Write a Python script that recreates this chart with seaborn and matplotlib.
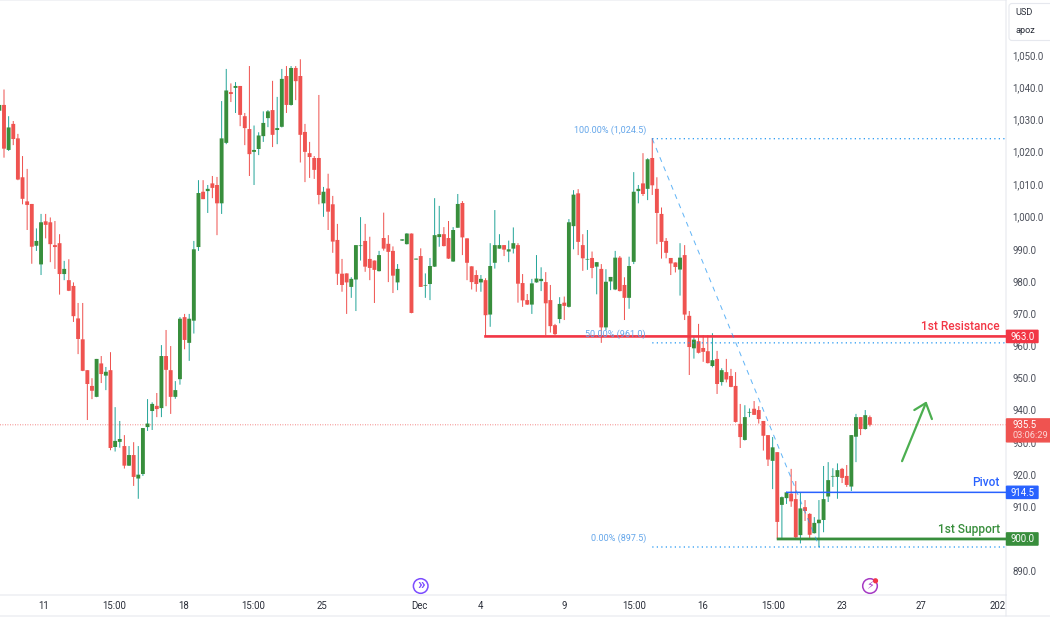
import matplotlib
matplotlib.use("Agg")
import matplotlib.pyplot as plt
from matplotlib.patches import Circle, FancyBboxPatch, Rectangle
from matplotlib.transforms import ScaledTranslation
import pandas as pd
import seaborn as sns

# Values, one entry per candle
highs = [
    1035.0, 1039.8, 1031.5, 1030.0, 1026.0, 1019.1, 1015.1, 1004.2, 996.6, 1001.1,
    1001.1, 1000.0, 998.9, 994.8, 986.5, 987.0, 979.8, 973.4, 973.4, 952.5,
    950.0, 956.0, 956.9, 953.5, 958.1, 941.0, 936.7, 932.3, 928.9, 930.1,
    928.9, 934.5, 943.5, 942.5, 945.4, 960.3, 965.0, 960.0, 949.1, 969.0,
    970.0, 970.0, 992.7, 1011.6, 1011.6, 1010.1, 1012.9, 1012.6, 1036.2, 1046.2,
    1041.7, 1042.1, 1040.9, 1032.5, 1047.1, 1028.6, 1026.5, 1033.0, 1033.4, 1042.5,
    1037.5, 1046.2, 1047.1, 1047.1, 1047.1, 1049.2, 1029.1, 1023.5, 1019.1, 1038.1,
    1009.5, 1013.6, 1006.7, 998.0, 987.1, 982.6, 981.4, 991.4, 1000.1, 998.0,
    994.0, 986.6, 989.6, 1001.5, 994.5, 991.0, 985.5, 993.2, 995.1, 995.0,
    987.2, 990.4, 982.6, 987.4, 1006.0, 1003.6, 997.0, 998.9, 997.0, 1007.3,
    1005.1, 993.5, 984.8, 983.6, 982.1, 981.1, 992.0, 1002.3, 994.8, 991.4,
    992.8, 996.9, 992.0, 982.4, 976.2, 980.9, 988.3, 984.5, 983.0, 979.0,
    966.9, 975.2, 975.4, 999.5, 1008.5, 1008.8, 994.8, 996.1, 989.4, 986.1,
    985.5, 983.9, 981.5, 989.6, 988.0, 981.4, 987.8, 1014.1, 1010.1, 1020.0,
    1018.4, 1024.7, 1012.5, 1003.1, 993.6, 987.4, 986.0, 992.0, 991.4, 970.9,
    963.1, 966.9, 963.4, 963.4, 964.0, 958.5, 953.1, 956.0, 952.9, 951.9,
    942.0, 941.6, 940.6, 942.9, 941.3, 936.7, 932.3, 931.7, 927.0, 913.2,
    914.7, 921.8, 918.0, 914.5, 912.1, 908.0, 906.8, 912.1, 922.7, 923.9,
    922.0, 923.5, 922.1, 923.0, 932.3, 938.9, 937.9, 940.1, 938.4,
]
body_tops = [
    1035.0, 1035.0, 1028.0, 1029.1, 1024.6, 1012.5, 1005.0, 1004.2, 992.7, 998.5,
    998.8, 998.5, 991.4, 992.0, 984.0, 980.5, 978.7, 968.6, 962.1, 952.5,
    947.6, 956.0, 954.6, 952.0, 952.5, 930.5, 931.1, 928.9, 926.1, 926.1,
    920.0, 934.5, 935.9, 942.0, 941.4, 956.9, 956.9, 952.5, 946.3, 968.5,
    969.0, 968.5, 990.1, 1007.6, 1008.0, 1008.9, 1010.6, 1010.1, 1024.6, 1039.5,
    1039.0, 1040.9, 1040.9, 1031.5, 1027.5, 1021.0, 1025.5, 1029.4, 1033.0, 1033.4,
    1027.8, 1043.1, 1044.0, 1046.5, 1046.5, 1044.0, 1026.6, 1020.0, 1018.5, 1018.5,
    1008.0, 1009.0, 1004.1, 993.0, 982.5, 982.6, 980.9, 991.4, 991.3, 992.7,
    987.1, 986.6, 988.3, 993.6, 991.8, 989.6, 984.0, 993.2, 995.0, 995.0,
    987.2, 988.0, 979.0, 984.9, 994.5, 994.8, 994.8, 993.6, 996.1, 1004.2,
    1004.5, 993.5, 984.8, 982.1, 980.9, 980.5, 984.9, 991.4, 991.4, 991.4,
    990.1, 992.0, 991.4, 979.6, 974.3, 979.5, 981.0, 980.9, 979.9, 974.3,
    966.5, 973.1, 973.5, 998.5, 1007.1, 1007.5, 991.4, 987.1, 987.4, 986.1,
    984.0, 980.0, 981.5, 987.5, 987.5, 979.0, 984.9, 1008.0, 1008.9, 1010.6,
    1018.1, 1018.5, 1008.9, 1001.1, 992.7, 987.4, 986.0, 987.5, 988.3, 969.4,
    962.0, 961.5, 959.4, 958.4, 955.6, 956.0, 952.5, 951.9, 950.7, 947.6,
    935.8, 937.9, 939.5, 940.5, 940.1, 936.7, 932.3, 928.5, 927.0, 913.0,
    914.5, 914.1, 912.4, 909.5, 909.9, 907.8, 905.0, 906.0, 912.4, 918.3,
    919.6, 921.4, 921.8, 919.6, 932.3, 937.9, 937.9, 938.5, 937.9,
]
body_bottoms = [
    1033.2, 1021.4, 1021.0, 1024.4, 1011.8, 1005.8, 1003.9, 990.9, 991.2, 985.4,
    997.7, 991.7, 990.8, 982.4, 982.4, 977.2, 969.3, 962.2, 952.3, 948.2,
    946.1, 944.2, 951.3, 950.8, 928.3, 928.6, 930.2, 922.8, 922.8, 919.3,
    918.8, 920.2, 934.8, 939.8, 940.4, 940.7, 952.6, 944.2, 944.2, 949.7,
    961.9, 961.0, 967.9, 990.8, 1005.7, 1008.2, 1009.2, 1004.4, 1004.4, 1023.2,
    1038.4, 1040.3, 1031.9, 1027.8, 1019.7, 1020.4, 1021.3, 1025.3, 1030.9, 1025.7,
    1027.2, 1028.2, 1035.0, 1035.0, 1042.4, 1025.7, 1020.4, 1018.8, 1014.8, 1007.0,
    1004.4, 1001.8, 992.5, 982.5, 979.0, 979.8, 978.4, 980.7, 991.1, 984.7,
    984.3, 983.7, 983.3, 990.3, 989.3, 981.9, 979.8, 992.8, 991.7, 970.3,
    986.9, 978.4, 978.8, 979.3, 984.7, 993.9, 991.1, 987.2, 986.3, 996.8,
    993.8, 985.9, 979.9, 979.3, 979.8, 969.6, 969.8, 985.9, 990.3, 990.0,
    989.4, 990.3, 979.4, 974.2, 972.9, 972.9, 979.8, 980.2, 973.3, 966.2,
    963.7, 968.4, 972.5, 972.2, 997.3, 992.4, 987.3, 986.9, 984.3, 984.7,
    965.8, 965.8, 980.1, 977.6, 977.1, 975.0, 975.0, 986.2, 1008.2, 1007.3,
    1008.9, 1010.0, 1001.4, 992.4, 989.0, 985.7, 984.6, 983.8, 969.8, 959.7,
    959.3, 957.9, 958.2, 954.7, 953.8, 948.2, 948.8, 949.6, 947.3, 936.4,
    931.7, 930.8, 939.3, 938.6, 937.3, 932.1, 924.7, 924.3, 905.3, 910.6,
    912.7, 911.7, 900.5, 901.2, 908.7, 901.3, 901.8, 904.9, 905.9, 913.2,
    919.4, 919.3, 919.0, 916.8, 916.3, 931.8, 934.2, 934.2, 935.5,
]
lows = [
    1033.2, 1018.6, 1020.7, 1022.5, 1011.6, 1004.1, 996.1, 985.6, 989.6, 982.1,
    993.5, 986.1, 984.0, 976.0, 980.5, 977.1, 967.5, 957.5, 952.2, 937.0,
    943.5, 944.1, 948.5, 946.3, 927.6, 927.2, 928.4, 921.9, 922.7, 916.5,
    912.5, 919.6, 933.6, 933.9, 937.9, 937.9, 941.3, 938.9, 943.6, 948.0,
    959.0, 955.4, 963.9, 989.6, 1005.7, 1001.4, 1006.0, 994.5, 1001.1, 1022.8,
    1035.9, 1032.5, 1028.4, 1022.5, 1012.9, 1010.1, 1019.4, 1023.5, 1028.1, 1021.9,
    1022.8, 1028.0, 1032.5, 1034.8, 1036.5, 1017.1, 1011.0, 1012.3, 1012.0, 1004.1,
    1000.2, 996.1, 989.0, 979.0, 976.9, 970.0, 975.0, 970.9, 986.6, 983.1,
    980.5, 973.4, 983.2, 989.7, 979.9, 976.5, 977.4, 992.7, 991.6, 970.2,
    986.9, 978.4, 975.0, 974.3, 984.6, 990.9, 991.0, 987.1, 986.2, 996.8,
    988.3, 980.5, 977.6, 976.9, 976.9, 962.9, 966.0, 984.1, 990.3, 988.0,
    986.1, 988.8, 973.5, 972.2, 972.8, 970.0, 979.7, 977.1, 963.4, 964.2,
    963.4, 967.1, 968.1, 972.0, 990.1, 988.3, 983.4, 983.7, 981.1, 976.1,
    961.0, 965.0, 977.4, 977.4, 977.0, 968.1, 971.6, 985.5, 1004.4, 1006.7,
    1005.4, 1007.0, 991.7, 987.2, 987.3, 982.1, 982.9, 975.7, 968.1, 951.0,
    956.1, 957.7, 955.1, 954.6, 953.4, 945.1, 947.7, 948.7, 947.2, 936.2,
    928.3, 930.6, 937.9, 938.6, 935.9, 927.5, 922.7, 915.5, 899.9, 899.9,
    910.9, 910.0, 899.9, 898.6, 905.6, 899.7, 901.7, 897.4, 902.1, 911.5,
    916.2, 912.5, 917.4, 916.2, 914.9, 923.9, 932.3, 934.0, 935.0,
]
directions = (
    "GRGRRRRRGG" "RRRRGRRRRR" "RGRGRGGRGR" "GGGGRGRRGG" "RGGGRGRRGG"
    "RGRRRGGGGR" "GGRGRRRRRR" "GRRRRRGGGR" "RRGRRRGGGR" "GRGGGGRRGG"
    "RRRRGRGGGR" "GGRRRGGGRR" "RGRGGRRGRG" "RGGGRRGGGR" "GRRRRRRGRR"
    "GRRRGRGRRR" "RGGRRRRGRG" "GRRGRRGGGG" "GGRRGGRGR"
)

# 900.0 is hidden behind the support label in the chart
price_ticks = [890, 910, 920, 930, 940, 950, 960, 970, 980, 990, 1000, 1010, 1020, 1030, 1040, 1050]
date_positions = [9.6, 24.8, 39.7, 54.8, 69.7, 90.8, 104, 122, 137, 152, 167.1, 182, 199, 215.5]
date_labels = ["11", "15:00", "18", "15:00", "25", "Dec", "4", "9", "15:00", "16", "15:00", "23", "27", "202"]

last_price = 935.5
resistance = 963.0
pivot = 914.5
support = 900.0
fib_levels = [1024.5, 961.0, 897.5]
fib_labels = ["100.00% (1,024.5)", "50.00% (961.0)", "0.00% (897.5)"]

RED = "#ef5350"
GREEN = "#388e3c"
WICK_GREEN = "#26a69a"
LINE_RED = "#f23645"
LINE_BLUE = "#2962ff"
FIB_BLUE = "#2196f3"
FIB_TEXT = "#64a6ea"
EDGE = "#e6e8ee"
TEXT = "#4a4e59"

sns.set_theme(style="white")
plt.rcParams["font.family"] = ["Roboto", "DejaVu Sans"]
plt.rcParams["path.snap"] = False

W, H = 1050, 621
fig = plt.figure(figsize=(W / 100, H / 100), dpi=100, facecolor="white")
ax = fig.add_axes([0, (H - 595) / H, 1006 / W, 595 / H])

df = pd.DataFrame({
    "idx": range(len(highs)),
    "high": highs,
    "top": body_tops,
    "bottom": body_bottoms,
    "low": lows,
    "dir": list(directions),
})
wicks = df.melt(id_vars=["idx", "dir"], value_vars=["high", "low"], value_name="price")
bodies = df.melt(id_vars=["idx", "dir"], value_vars=["top", "bottom"], value_name="price")

# Each candle is its own unit, so lineplot draws a separate vertical stroke
sns.lineplot(data=wicks, x="idx", y="price", hue="dir", units="idx", estimator=None,
             palette={"R": RED, "G": WICK_GREEN}, linewidth=0.72, legend=False,
             solid_capstyle="butt", ax=ax, zorder=3)
sns.lineplot(data=bodies, x="idx", y="price", hue="dir", units="idx", estimator=None,
             palette={"R": RED, "G": GREEN}, linewidth=2.8, legend=False,
             solid_capstyle="butt", ax=ax, zorder=4)

ax.set_xlim(0.136, 217.4)
ax.set_ylim(882.57, 1067.64)
ax.set_xlabel("")
ax.set_ylabel("")

# --- levels and fibonacci ---
xmax = 217.4
ax.axhline(last_price, color=RED, lw=0.6, ls=(0, (1, 2)), zorder=2)
ax.plot([104.7, xmax], [resistance, resistance], color=LINE_RED, lw=1.9, zorder=5, solid_capstyle="butt")
ax.plot([169.9, xmax], [pivot, pivot], color=LINE_BLUE, lw=1.1, zorder=5, solid_capstyle="butt")
ax.plot([167.9, xmax], [support, support], color=GREEN, lw=2.0, zorder=5, solid_capstyle="butt")
for level, label in zip(fib_levels, fib_labels):
    ax.plot([141, xmax], [level, level], color=FIB_BLUE, lw=0.9, ls=(0, (1, 2.6)), zorder=5)
    ax.annotate(label, (141, level), xytext=(-4.5, 6.4), textcoords="offset points",
                ha="right", va="center", fontsize=6.5, color=FIB_TEXT, zorder=7)
ax.plot([141, 177.1], [fib_levels[0], fib_levels[2]], color=FIB_BLUE, alpha=0.7, lw=0.72,
        ls=(0, (5, 5)), zorder=5)

level_texts = [(resistance, "1st Resistance", LINE_RED), (pivot, "Pivot", LINE_BLUE), (support, "1st Support", GREEN)]
for level, label, color in level_texts:
    ax.annotate(label, (1.0, level), xycoords=ax.get_yaxis_transform(), xytext=(-4.5, 6.8),
                textcoords="offset points", ha="right", va="center", fontsize=8.6,
                fontweight="medium", color=color, zorder=7)

# hand drawn arrow
ax.plot([194.95, 200.1], [924.2, 942.3], color="#4caf50", lw=1.6, zorder=6, solid_capstyle="round")
ax.plot([197.6, 200.1, 201.4], [940.1, 942.3, 937.3], color="#4caf50", lw=1.6, zorder=6)

# --- axes ---
ax.yaxis.tick_right()
ax.set_yticks(price_ticks)
ax.set_yticklabels([f"{p:,.1f}" for p in price_ticks])
ax.set_xticks(date_positions)
ax.set_xticklabels(date_labels)
ax.tick_params(axis="y", length=0, pad=4.8, labelsize=6.9, labelcolor=TEXT)
ax.tick_params(axis="x", length=0, pad=4.2, labelsize=6.9, labelcolor="#2a2e39")
ax.grid(False)
ax.spines["left"].set_visible(False)
for side in ["top", "right", "bottom"]:
    ax.spines[side].set_color(EDGE)
    ax.spines[side].set_linewidth(0.8)

# labels with a comma sit a little higher on the scale
for tick_label in ax.get_yticklabels():
    if "," in tick_label.get_text():
        tick_label.set_transform(tick_label.get_transform() + ScaledTranslation(0, 1.5 / 100, fig.dpi_scale_trans))

# price labels on the scale
ytrans = ax.get_yaxis_transform()
box_w = 31.5 / 1006
for price, color in [(resistance, LINE_RED), (pivot, LINE_BLUE), (support, GREEN)]:
    ax.add_patch(Rectangle((1.0005, price - 1.9), box_w, 3.8, transform=ytrans, color=color,
                           clip_on=False, zorder=8))
    ax.text(1.0005 + box_w / 2, price - 0.15, f"{price:.1f}", transform=ytrans, ha="center", va="center",
            color="white", fontsize=6.9, zorder=9, clip_on=False)
ax.add_patch(Rectangle((1.0005, last_price - 5.3), 44 / 1006, 7.15, transform=ytrans, color=RED,
                       clip_on=False, zorder=8))
ax.text(1.0065, last_price, f"{last_price:.1f}", transform=ytrans, ha="left", va="center",
        color="white", fontsize=6.9, zorder=9, clip_on=False)
ax.text(1.0065, last_price - 3.4, "03:06:29", transform=ytrans, ha="left", va="center",
        color="#fbd5d4", fontsize=6.7, zorder=9, clip_on=False)

# --- chrome in pixel coordinates ---
ov = fig.add_axes([0, 0, 1, 1], zorder=10)
ov.set_xlim(0, W)
ov.set_ylim(H, 0)
ov.axis("off")
ov.plot([0, W], [616, 616], color=EDGE, lw=0.8)
ov.plot([1006, 1006], [595, 616], color=EDGE, lw=0.8)
ov.add_patch(FancyBboxPatch((1009, 3.5), 50, 37, boxstyle="round,pad=0,rounding_size=3",
                            fc="white", ec=EDGE, lw=0.8, clip_on=True))
ov.text(1015.7, 12.7, "USD", fontsize=6.6, color="#2a2e39", va="center")
ov.text(1015.7, 30.7, "apoz", fontsize=6.6, color="#2a2e39", va="center")

ov.add_patch(Circle((420.7, 586), 7.3, fc="white", ec="#7c4dff", lw=1.1))
ov.text(420.7, 585, "»", fontsize=11, color="#7c4dff", ha="center", va="center", fontweight="bold")
ov.add_patch(Circle((870, 586), 7.3, fc="white", ec="#a63bc4", lw=1.1))
ov.text(870, 586, "\u26a1", fontsize=8, color="#a63bc4", ha="center", va="center", family="DejaVu Sans")
ov.add_patch(Circle((875.5, 580.8), 1.9, color=LINE_RED))

fig.savefig("out.png", dpi=100)
